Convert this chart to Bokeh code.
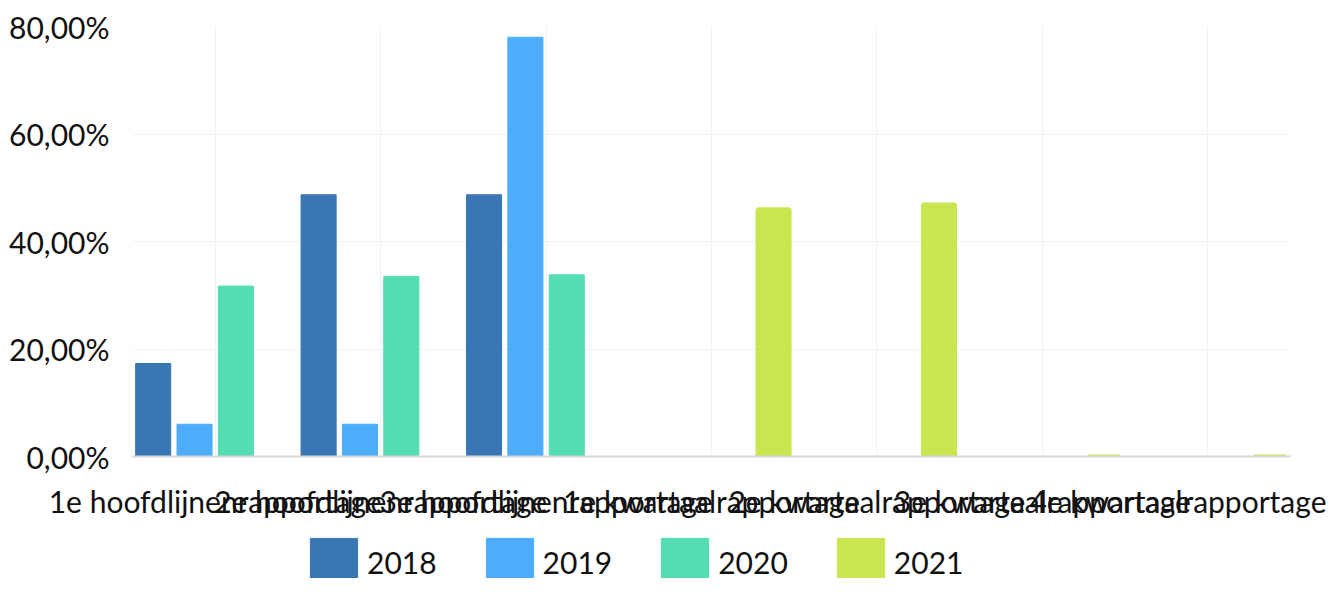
from bokeh.plotting import figure
from bokeh.layouts import column
from bokeh.models import ColumnDataSource, FactorRange, Range1d, FixedTicker, Legend, LegendItem
from bokeh.transform import dodge
from bokeh.embed import file_html
from bokeh.resources import INLINE

categories = ["1e hoofdlijnenrapportage", "2e hoofdlijnenrapportage", "3e hoofdlijnenrapportage",
              "1e kwartaalrapportage", "2e kwartaalrapportage", "3e kwartaalrapportage",
              "4e kwartaalrapportage"]
nan = float("nan")
series_names = ["2018", "2019", "2020", "2021"]
v2018 = [17.3, 48.7, 48.7, nan, nan, nan, nan]
v2019 = [6.0, 6.0, 78.0, nan, nan, nan, nan]
v2020 = [31.7, 33.5, 33.8, nan, nan, nan, nan]
v2021 = [nan, nan, nan, 46.0, 46.9, 0.0, 0.0]
colors = ["#3a76b3", "#4eacfd", "#54ddb2", "#c9e651"]
y_ticks = [0, 20, 40, 60, 80]
y_labels = ["0,00%", "20,00%", "40,00%", "60,00%", "80,00%"]

FONT = "Lato"
FS = "30px"

src = ColumnDataSource(dict(cat=categories, v2018=v2018, v2019=v2019, v2020=v2020, v2021=v2021))

p = figure(x_range=FactorRange(*categories, range_padding=0), y_range=Range1d(0, 80),
           width=1326, height=526, output_backend="svg", toolbar_location=None,
           min_border_left=132, min_border_right=36, min_border_top=26, min_border_bottom=70)
p.outline_line_color = None

offsets = [-0.375, -0.125, 0.125, 0.375]
renderers = []
for name, off, col in zip(series_names, offsets, colors):
    lw = 4 if name == "2021" else 1
    r = p.vbar(x=dodge("cat", off, range=p.x_range), top="v" + name, bottom=0,
               width=0.212 - (lw - 1) / 165.4,
               source=src, fill_color=col, line_color=col, line_width=lw)
    renderers.append(r)

p.yaxis.ticker = FixedTicker(ticks=y_ticks)
p.yaxis.major_label_overrides = {t: l for t, l in zip(y_ticks, y_labels)}
p.yaxis.axis_line_color = None
p.yaxis.major_tick_line_color = None
p.yaxis.minor_tick_line_color = None
p.yaxis.major_label_standoff = 17
p.yaxis.major_label_text_font = FONT
p.yaxis.major_label_text_font_size = FS
p.yaxis.major_label_text_color = "#111111"

p.xaxis.axis_line_color = "#d6d6d6"
p.xaxis.axis_line_width = 2
p.xaxis.major_tick_line_color = None
p.xaxis.minor_tick_line_color = None
p.xaxis.major_label_standoff = 20
p.xaxis.major_label_text_font = FONT
p.xaxis.major_label_text_font_size = FS
p.xaxis.major_label_text_color = "#111111"
p.xaxis.major_label_orientation = "horizontal"

p.xgrid.grid_line_color = "#f2f2f2"
p.ygrid.grid_line_color = "#f2f2f2"
p.ygrid.ticker = FixedTicker(ticks=y_ticks)

# legend strip
lg = figure(width=1326, height=52, output_backend="svg", toolbar_location=None,
            x_range=Range1d(0, 1), y_range=Range1d(0, 1),
            min_border_left=0, min_border_right=0, min_border_top=0, min_border_bottom=0)
lg.outline_line_color = None
lg.axis.visible = False
lg.grid.visible = False
lsrc = ColumnDataSource(dict(x=[nan], top=[nan]))
lrs = [lg.vbar(x="x", top="top", width=0.1, source=lsrc, fill_color=c, line_color=c) for c in colors]
legend = Legend(items=[LegendItem(label=n, renderers=[r]) for n, r in zip(series_names, lrs)],
                orientation="horizontal", location=(172, -13),
                glyph_width=59, glyph_height=59, label_standoff=4, spacing=43,
                label_text_font=FONT, label_text_font_size=FS, label_text_color="#111111",
                border_line_color=None, background_fill_alpha=0, padding=0, margin=0)
lg.add_layout(legend)

layout = column(p, lg, spacing=0)
open("out.html", "w").write(file_html(layout, INLINE))
